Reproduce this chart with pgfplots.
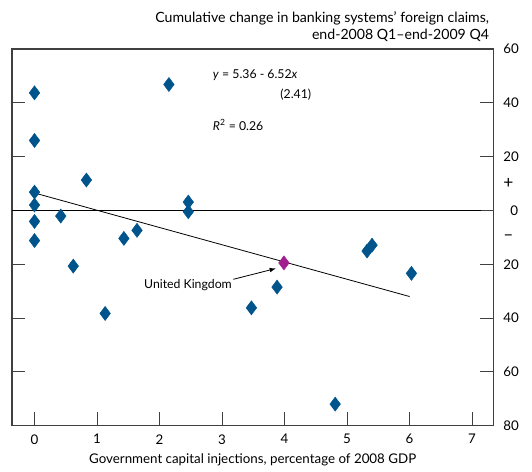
\documentclass[border=0pt]{standalone}
\usepackage{fontspec}
\setmainfont{Lato}
\usepackage{pgfplots}
\pgfplotsset{compat=1.18}
\definecolor{boeblue}{RGB}{0,84,140}
\definecolor{boemag}{RGB}{162,32,142}

\begin{document}
\begin{tikzpicture}
\begin{axis}[
    scale only axis,
    width=361pt, height=282.5pt,
    xmin=-0.36, xmax=7.34,
    ymin=-80, ymax=60,
    clip=false,
    font=\fontsize{10}{12}\selectfont,
    xtick={0,1,...,7},
    xtick pos=left,
    ytick={-80,-60,...,60},
    yticklabels={80,60,40,20,0,20,40,60},
    ytick pos=both,
    yticklabel pos=right,
    tick align=inside,
    major tick length=10pt,
    tick style={black!75, line width=0.6pt},
    axis line style={black!75, line width=0.8pt},
    /pgf/number format/assume math mode=true,
    xticklabel style={yshift=-3pt},
    yticklabel style={anchor=west, xshift=4pt, text width=11pt, align=right},
    extra y ticks={10,-10},
    extra y tick labels={+,–},
    extra y tick style={major tick length=0pt,
        yticklabel style={align=left, font=\fontsize{13}{13}\selectfont}},
    xlabel={Government capital injections, percentage of 2008 GDP},
]
% countries
\addplot[only marks, mark=diamond*, mark size=5.25pt, boeblue, mark options={draw=boeblue, fill=boeblue}]
coordinates {
(0,43.7) (0,26.0) (0,6.8) (0,2.0) (0,-4.1) (0,-11.2)
(0.42,-2.1) (0.83,11.3) (0.62,-20.7) (1.13,-38.3) (1.43,-10.4) (1.64,-7.4)
(2.15,46.8) (2.46,3.1) (2.46,-0.5) (3.47,-36.2) (3.88,-28.5) (4.81,-72.0)
(5.32,-15.1) (5.40,-12.9) (6.03,-23.4)
};
% United Kingdom
\addplot[only marks, mark=diamond*, mark size=5.25pt, boemag, mark options={draw=boemag, fill=boemag}]
coordinates {(3.99,-19.5)};
% zero line and fitted line
\addplot[black, line width=0.8pt] coordinates {(-0.36,0) (7.15,0)};
\addplot[black, line width=0.6pt] coordinates {(-0.05,6.8) (6.0,-32.0)};

\begin{scope}[font=\fontsize{9.2}{11}\selectfont]
\node[anchor=west, inner sep=0] at (axis cs:2.85,50.4) {\textit{y} = 5.36 - 6.52\textit{x}};
\node[anchor=east, inner sep=0] at (axis cs:4.43,43) {(2.41)};
\node[anchor=west, inner sep=0] at (axis cs:2.85,31.9) {\textit{R}\textsuperscript{2} = 0.26};
\node[anchor=east, inner sep=0] at (axis cs:3.16,-27.9) {United Kingdom};
\end{scope}
\draw[-latex, line width=0.6pt] (axis cs:3.18,-25.6) -- (axis cs:3.86,-21.6);

\node[anchor=south east, align=right, inner sep=0, xshift=-3pt, yshift=5pt,
      font=\fontsize{10.6}{13}\selectfont]
  at (rel axis cs:1,1) {Cumulative change in banking systems’ foreign claims,\\ end-2008 Q1–end-2009 Q4};

% page margins of the reference
\path (rel axis cs:0,0) ++(-9pt,-34.5pt);
\path (rel axis cs:1,1) ++(29pt,36.75pt);
\end{axis}
\end{tikzpicture}
\end{document}
